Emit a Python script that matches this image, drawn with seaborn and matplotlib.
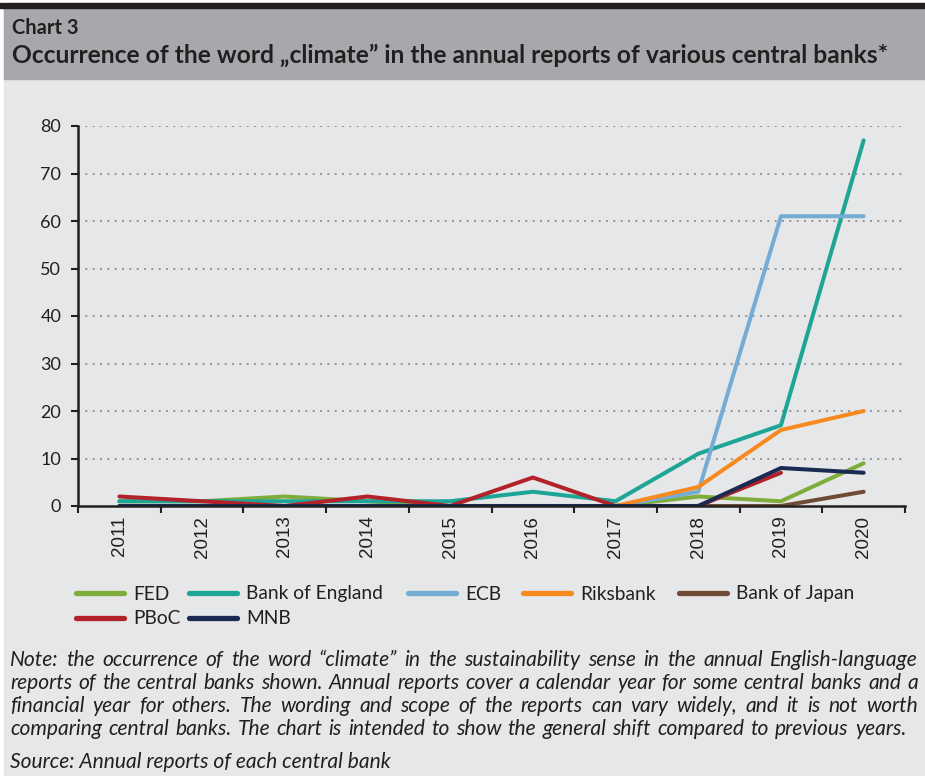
import numpy as np
import pandas as pd
import matplotlib
matplotlib.use("Agg")
import matplotlib.pyplot as plt
import seaborn as sns
from matplotlib.patches import Rectangle
from matplotlib.lines import Line2D

# ---------------- data ----------------
years = ["2011", "2012", "2013", "2014", "2015", "2016", "2017", "2018", "2019", "2020"]
banks = ["FED", "Bank of England", "ECB", "Riksbank", "Bank of Japan", "PBoC", "MNB"]
fed = [1, 1, 2, 1, 0, 0, 0, 2, 1, 9]
boe = [1, 1, 1, 1, 1, 3, 1, 11, 17, 77]
ecb = [0, 0, 0, 0, 0, 0, 0, 3, 61, 61]
riksbank = [np.nan, np.nan, np.nan, np.nan, np.nan, np.nan, 0, 4, 16, 20]
boj = [np.nan, np.nan, np.nan, np.nan, np.nan, np.nan, np.nan, 0, 0, 3]
pboc = [2, 1, 0, 2, 0, 6, 0, 0, 7, np.nan]
mnb = [0, 0, 0, 0, 0, 0, 0, 0, 8, 7]
yticks = [0, 10, 20, 30, 40, 50, 60, 70, 80]

colors = ["#7fad3c", "#1fa595", "#74acd3", "#f7891f", "#6f4a35", "#b3212a", "#1b2a52"]

series = [fed, boe, ecb, riksbank, boj, pboc, mnb]
rows = []
for b, vals in zip(banks, series):
    for i, (y, v) in enumerate(zip(years, vals)):
        rows.append({"idx": i, "year": y, "bank": b, "count": v})
df = pd.DataFrame(rows)

# ---------------- figure ----------------
W, H = 925, 776
BG = "#e6e7e8"
fig = plt.figure(figsize=(W / 100, H / 100), dpi=100, facecolor=BG)

def fx(px):
    return px / W

def fy(py):
    return 1 - py / H

# header decorations
fig.patches.append(Rectangle((0, fy(H)), 1, 1, transform=fig.transFigure, color="white", zorder=-3))
fig.patches.append(Rectangle((fx(4), 0), 1, fy(8), transform=fig.transFigure, color=BG, zorder=-2))
fig.patches.append(Rectangle((fx(4), fy(79)), 1, fy(8) - fy(79), transform=fig.transFigure, color="#a7a8ab", zorder=-1))
fig.patches.append(Rectangle((0, fy(8)), 1, fy(3) - fy(8), transform=fig.transFigure, color="#231f20", zorder=-1))

TXT = "#231f20"
fig.text(fx(12), fy(28), "Chart 3", ha="left", va="center", fontsize=14.5, fontweight="bold",
         family="Lato", color=TXT)
fig.text(fx(12), fy(55), "Occurrence of the word \u201eclimate\u201d in the annual reports of various central banks*",
         ha="left", va="center", fontsize=17.75, fontweight="bold", family="Lato", color=TXT)

ax = fig.add_axes([fx(78), fy(506), fx(905) - fx(78), fy(126) - fy(506)])
ax.set_facecolor(BG)

sns.lineplot(data=df, x="idx", y="count", hue="bank", hue_order=banks, palette=colors,
             linewidth=2.9, ax=ax, legend=False, solid_capstyle="round")

ax.set_xlim(-0.5, len(years) - 0.5)
ax.set_ylim(0, 80)
ax.set_yticks(yticks)
ax.set_yticklabels([str(t) for t in yticks], family="Lato", fontsize=13, color=TXT)
ax.set_xticks(np.arange(-0.5, len(years), 1.0))
ax.set_xticklabels([])
ax.set_xticks(np.arange(len(years)), minor=True)
ax.set_xticklabels(years, minor=True, rotation=90, family="Liberation Sans", fontsize=13.5, color=TXT)
ax.tick_params(axis="x", which="major", direction="out", length=5, width=1.5, color=TXT)
ax.tick_params(axis="x", which="minor", length=0, pad=7)
ax.tick_params(axis="y", direction="out", length=5, width=1.5, color=TXT, pad=7)
ax.set_xlabel("")
ax.set_ylabel("")
for s in ["top", "right"]:
    ax.spines[s].set_visible(False)
for s in ["left", "bottom"]:
    ax.spines[s].set_color(TXT)
    ax.spines[s].set_linewidth(1.8)
for t in yticks[1:]:
    ax.axhline(t, color="#8a8a8a", linestyle=(0, (1.2, 3.2)), linewidth=1.2, zorder=0)

# legend entries placed at the reference's column positions
leg_pos = {"FED": (76, 594), "Bank of England": (189, 594), "ECB": (408, 594),
           "Riksbank": (523, 594), "Bank of Japan": (679, 594),
           "PBoC": (76, 619), "MNB": (189, 619)}
for b, c in zip(banks, colors):
    h = Line2D([0], [0], color=c, linewidth=3.8, solid_capstyle="round")
    px, py = leg_pos[b]
    fig.legend([h], [b], loc="center left", bbox_to_anchor=(fx(px), fy(py)),
               frameon=False, borderpad=0, borderaxespad=0, handlelength=2.5, handletextpad=0.47,
               prop={"family": "Lato", "size": 13.8}, labelcolor=TXT)

note = [
    "Note: the occurrence of the word \u201cclimate\u201d in the sustainability sense in the annual English-language",
    "reports of the central banks shown. Annual reports cover a calendar year for some central banks and a",
    "financial year for others. The wording and scope of the reports can vary widely, and it is not worth",
    "comparing central banks. The chart is intended to show the general shift compared to previous years.",
]
note_right = [918, 918, 918, 906]
renderer = fig.canvas.get_renderer()
for i, line in enumerate(note):
    yy = fy(660 + 23 * i)
    words = line.split(" ")
    objs = [fig.text(0, yy, w, ha="left", va="center", fontsize=15.1, style="italic",
                     family="Lato", color=TXT) for w in words]
    widths = [o.get_window_extent(renderer).width for o in objs]
    gap = (note_right[i] - 10 - sum(widths)) / (len(words) - 1)
    xpos = 10.0
    for o, w in zip(objs, widths):
        o.set_x(fx(xpos))
        xpos += w + gap
fig.text(fx(10), fy(762), "Source: Annual reports of each central bank", ha="left", va="center",
         fontsize=15.1, style="italic", family="Lato", color=TXT)

fig.savefig("out.png", dpi=100, facecolor=fig.get_facecolor())
